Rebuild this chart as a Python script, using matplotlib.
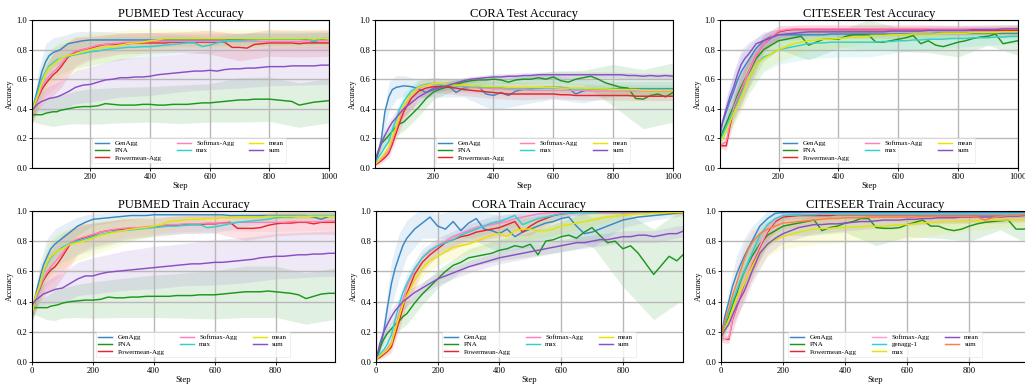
import numpy as np
import matplotlib
matplotlib.use("Agg")
import matplotlib.pyplot as plt

plt.rcParams["font.family"] = ["Liberation Serif", "DejaVu Serif"]

# logged training steps (shared by every curve)
STEPS = [1, 12, 25, 37, 50, 62, 75, 87, 100,
         125, 150, 175, 200, 225, 250, 275, 300, 325, 350, 375, 400,
         425, 450, 475, 500, 525, 550, 575, 600, 625, 650, 675, 700,
         725, 750, 775, 800, 825, 850, 875, 900, 925, 950, 975, 1000]
# steps where the std band is sampled
BAND_STEPS = [1, 25, 50, 75, 100, 150, 200, 300, 400, 500, 600, 700, 800, 900, 1000]

LABELS = ["GenAgg", "PNA", "Powermean-Agg", "Softmax-Agg", "max", "mean", "sum"]
COLORS = ["#3a87c6", "#1e961e", "#e8262b", "#ff7fbf", "#2fd0d0", "#e4e400", "#8a4fc4"]
LABELS_CS_TRAIN = ["GenAgg", "PNA", "Powermean-Agg", "Softmax-Agg", "genagg-1", "max", "mean", "sum"]
COLORS_CS_TRAIN = ["#3a87c6", "#1e961e", "#e8262b", "#ff9fcf", "#2fd0d0", "#e4e400", "#8a4fc4", "#ff7f3f"]

# ---------------- PUBMED test ----------------
PUB_TEST_MEAN = [
    [0.32, 0.45, 0.55, 0.65, 0.72, 0.76, 0.78, 0.79, 0.80,
     0.84, 0.85, 0.86, 0.865, 0.865, 0.865, 0.865, 0.865, 0.865, 0.865, 0.865, 0.865,
     0.865, 0.865, 0.865, 0.865, 0.865, 0.865, 0.865, 0.865, 0.865, 0.865, 0.87, 0.87,
     0.87, 0.87, 0.87, 0.87, 0.87, 0.87, 0.87, 0.87, 0.87, 0.85, 0.87, 0.875],
    [0.36, 0.36, 0.36, 0.36, 0.37, 0.375, 0.38, 0.38, 0.39,
     0.40, 0.41, 0.415, 0.415, 0.42, 0.435, 0.43, 0.425, 0.425, 0.425, 0.43, 0.43,
     0.425, 0.425, 0.43, 0.43, 0.43, 0.435, 0.44, 0.44, 0.445, 0.45, 0.455, 0.46,
     0.46, 0.465, 0.465, 0.465, 0.46, 0.455, 0.45, 0.425, 0.435, 0.445, 0.45, 0.455],
    [0.32, 0.42, 0.48, 0.53, 0.57, 0.60, 0.63, 0.65, 0.68,
     0.75, 0.785, 0.80, 0.81, 0.825, 0.835, 0.835, 0.84, 0.84, 0.845, 0.845, 0.845,
     0.845, 0.845, 0.85, 0.85, 0.85, 0.85, 0.85, 0.85, 0.85, 0.85, 0.815, 0.815,
     0.81, 0.835, 0.84, 0.845, 0.845, 0.845, 0.845, 0.84, 0.845, 0.845, 0.845, 0.845],
    [0.32, 0.42, 0.49, 0.55, 0.59, 0.62, 0.65, 0.67, 0.70,
     0.76, 0.79, 0.80, 0.815, 0.83, 0.835, 0.84, 0.845, 0.85, 0.85, 0.85, 0.855,
     0.855, 0.855, 0.855, 0.855, 0.855, 0.855, 0.855, 0.855, 0.855, 0.855, 0.855, 0.855,
     0.855, 0.855, 0.855, 0.855, 0.855, 0.855, 0.855, 0.855, 0.86, 0.86, 0.86, 0.86],
    [0.32, 0.44, 0.52, 0.60, 0.65, 0.69, 0.71, 0.73, 0.74,
     0.755, 0.765, 0.775, 0.785, 0.79, 0.80, 0.805, 0.81, 0.815, 0.815, 0.82, 0.82,
     0.825, 0.83, 0.835, 0.84, 0.845, 0.845, 0.82, 0.83, 0.845, 0.855, 0.86, 0.86,
     0.865, 0.865, 0.87, 0.87, 0.87, 0.87, 0.87, 0.87, 0.875, 0.86, 0.875, 0.875],
    [0.32, 0.43, 0.50, 0.58, 0.64, 0.68, 0.70, 0.72, 0.74,
     0.76, 0.77, 0.785, 0.80, 0.81, 0.815, 0.82, 0.83, 0.84, 0.845, 0.85, 0.86,
     0.865, 0.875, 0.875, 0.875, 0.875, 0.875, 0.875, 0.875, 0.875, 0.875, 0.875, 0.875,
     0.875, 0.875, 0.875, 0.875, 0.875, 0.875, 0.875, 0.875, 0.875, 0.875, 0.875, 0.875],
    [0.38, 0.41, 0.435, 0.45, 0.46, 0.47, 0.475, 0.48, 0.49,
     0.515, 0.545, 0.56, 0.565, 0.58, 0.595, 0.60, 0.61, 0.61, 0.615, 0.615, 0.62,
     0.63, 0.635, 0.64, 0.645, 0.65, 0.655, 0.655, 0.66, 0.655, 0.665, 0.67, 0.67,
     0.675, 0.675, 0.68, 0.685, 0.685, 0.685, 0.69, 0.69, 0.69, 0.69, 0.695, 0.695],
]
PUB_TEST_SD = [
    [0.04, 0.10, 0.12, 0.10, 0.09, 0.07, 0.06, 0.05, 0.05, 0.04, 0.04, 0.04, 0.04, 0.04, 0.04],
    [0.04, 0.06, 0.08, 0.10, 0.10, 0.11, 0.12, 0.12, 0.12, 0.13, 0.13, 0.15, 0.15, 0.15, 0.15],
    [0.04, 0.08, 0.12, 0.14, 0.14, 0.10, 0.08, 0.07, 0.07, 0.07, 0.08, 0.09, 0.09, 0.09, 0.09],
    [0.04, 0.08, 0.10, 0.12, 0.12, 0.09, 0.07, 0.06, 0.06, 0.06, 0.06, 0.06, 0.06, 0.06, 0.06],
    [0.04, 0.08, 0.10, 0.10, 0.10, 0.09, 0.09, 0.08, 0.07, 0.06, 0.05, 0.05, 0.05, 0.05, 0.05],
    [0.04, 0.10, 0.12, 0.12, 0.12, 0.12, 0.11, 0.10, 0.08, 0.06, 0.06, 0.06, 0.06, 0.06, 0.06],
    [0.04, 0.06, 0.08, 0.09, 0.10, 0.11, 0.12, 0.13, 0.13, 0.13, 0.13, 0.13, 0.13, 0.13, 0.13],
]

# ---------------- CORA test ----------------
CORA_TEST_MEAN = [
    [0.02, 0.08, 0.19, 0.38, 0.48, 0.53, 0.545, 0.55, 0.555,
     0.55, 0.535, 0.51, 0.54, 0.555, 0.555, 0.51, 0.54, 0.545, 0.55, 0.50, 0.49,
     0.51, 0.49, 0.52, 0.53, 0.535, 0.54, 0.545, 0.545, 0.545, 0.54, 0.50, 0.52,
     0.53, 0.535, 0.535, 0.535, 0.535, 0.535, 0.535, 0.535, 0.535, 0.535, 0.535, 0.535],
    [0.02, 0.09, 0.165, 0.19, 0.22, 0.25, 0.28, 0.30, 0.31,
     0.36, 0.41, 0.47, 0.515, 0.535, 0.55, 0.565, 0.58, 0.59, 0.595, 0.595, 0.60,
     0.595, 0.58, 0.595, 0.60, 0.60, 0.61, 0.60, 0.615, 0.59, 0.58, 0.60, 0.61,
     0.62, 0.60, 0.575, 0.56, 0.545, 0.54, 0.47, 0.465, 0.49, 0.50, 0.48, 0.51],
    [0.02, 0.03, 0.05, 0.07, 0.10, 0.16, 0.24, 0.31, 0.38,
     0.47, 0.52, 0.54, 0.55, 0.55, 0.545, 0.54, 0.53, 0.525, 0.52, 0.515, 0.51,
     0.505, 0.50, 0.50, 0.50, 0.50, 0.50, 0.50, 0.50, 0.495, 0.495, 0.49, 0.49,
     0.49, 0.49, 0.49, 0.49, 0.49, 0.49, 0.485, 0.485, 0.485, 0.485, 0.485, 0.485],
    [0.02, 0.04, 0.06, 0.09, 0.12, 0.19, 0.27, 0.34, 0.41,
     0.50, 0.54, 0.56, 0.57, 0.565, 0.56, 0.555, 0.55, 0.545, 0.54, 0.54, 0.535,
     0.535, 0.53, 0.53, 0.53, 0.525, 0.525, 0.525, 0.525, 0.525, 0.525, 0.525, 0.525,
     0.52, 0.52, 0.52, 0.52, 0.52, 0.52, 0.52, 0.52, 0.52, 0.52, 0.52, 0.52],
    [0.02, 0.06, 0.10, 0.14, 0.18, 0.26, 0.33, 0.40, 0.45,
     0.52, 0.55, 0.565, 0.57, 0.565, 0.56, 0.555, 0.555, 0.55, 0.55, 0.545, 0.545,
     0.545, 0.54, 0.54, 0.54, 0.54, 0.54, 0.54, 0.54, 0.54, 0.535, 0.535, 0.535,
     0.535, 0.535, 0.535, 0.535, 0.53, 0.53, 0.53, 0.53, 0.53, 0.53, 0.53, 0.53],
    [0.02, 0.04, 0.07, 0.10, 0.14, 0.21, 0.28, 0.36, 0.42,
     0.50, 0.545, 0.56, 0.57, 0.57, 0.565, 0.56, 0.56, 0.555, 0.555, 0.55, 0.55,
     0.55, 0.545, 0.545, 0.545, 0.545, 0.545, 0.545, 0.545, 0.54, 0.54, 0.54, 0.54,
     0.535, 0.535, 0.535, 0.53, 0.53, 0.53, 0.53, 0.525, 0.525, 0.525, 0.525, 0.525],
    [0.02, 0.10, 0.17, 0.22, 0.27, 0.31, 0.34, 0.37, 0.40,
     0.44, 0.48, 0.51, 0.53, 0.545, 0.56, 0.575, 0.59, 0.60, 0.605, 0.61, 0.615,
     0.615, 0.62, 0.62, 0.625, 0.625, 0.63, 0.63, 0.63, 0.63, 0.63, 0.63, 0.63,
     0.63, 0.63, 0.63, 0.63, 0.63, 0.625, 0.625, 0.62, 0.625, 0.62, 0.625, 0.62],
]
CORA_TEST_SD = [
    [0.01, 0.06, 0.10, 0.08, 0.07, 0.06, 0.06, 0.06, 0.10, 0.10, 0.08, 0.08, 0.05, 0.05, 0.05],
    [0.01, 0.04, 0.05, 0.06, 0.06, 0.06, 0.05, 0.03, 0.03, 0.03, 0.04, 0.05, 0.14, 0.20, 0.20],
    [0.01, 0.02, 0.03, 0.05, 0.06, 0.05, 0.04, 0.04, 0.04, 0.04, 0.03, 0.03, 0.03, 0.03, 0.03],
    [0.01, 0.02, 0.03, 0.05, 0.06, 0.05, 0.04, 0.04, 0.04, 0.04, 0.04, 0.03, 0.03, 0.03, 0.03],
    [0.01, 0.03, 0.04, 0.06, 0.06, 0.05, 0.04, 0.04, 0.04, 0.04, 0.04, 0.03, 0.03, 0.03, 0.03],
    [0.01, 0.02, 0.04, 0.05, 0.06, 0.05, 0.04, 0.04, 0.04, 0.04, 0.04, 0.03, 0.03, 0.03, 0.03],
    [0.01, 0.04, 0.05, 0.05, 0.05, 0.04, 0.03, 0.02, 0.02, 0.02, 0.02, 0.02, 0.02, 0.02, 0.02],
]

# ---------------- CITESEER test ----------------
CS_TEST_MEAN = [
    [0.20, 0.30, 0.38, 0.45, 0.52, 0.59, 0.65, 0.69, 0.73,
     0.81, 0.86, 0.89, 0.90, 0.90, 0.90, 0.90, 0.90, 0.90, 0.90, 0.905, 0.905,
     0.905, 0.905, 0.905, 0.905, 0.905, 0.905, 0.905, 0.905, 0.905, 0.905, 0.905, 0.905,
     0.91, 0.91, 0.91, 0.91, 0.91, 0.91, 0.91, 0.91, 0.91, 0.91, 0.91, 0.91],
    [0.17, 0.24, 0.30, 0.36, 0.42, 0.49, 0.55, 0.60, 0.64,
     0.74, 0.80, 0.83, 0.86, 0.87, 0.88, 0.89, 0.83, 0.85, 0.87, 0.87, 0.87,
     0.89, 0.90, 0.90, 0.90, 0.85, 0.85, 0.86, 0.87, 0.88, 0.895, 0.84, 0.86,
     0.83, 0.82, 0.835, 0.85, 0.86, 0.875, 0.885, 0.89, 0.905, 0.84, 0.85, 0.86],
    [0.15, 0.15, 0.15, 0.28, 0.40, 0.46, 0.52, 0.59, 0.65,
     0.76, 0.84, 0.88, 0.92, 0.93, 0.935, 0.935, 0.935, 0.935, 0.935, 0.935, 0.935,
     0.935, 0.935, 0.935, 0.935, 0.935, 0.935, 0.935, 0.935, 0.935, 0.935, 0.935, 0.935,
     0.93, 0.93, 0.93, 0.93, 0.93, 0.93, 0.93, 0.93, 0.93, 0.93, 0.93, 0.93],
    [0.15, 0.16, 0.18, 0.30, 0.41, 0.47, 0.53, 0.59, 0.65,
     0.76, 0.84, 0.885, 0.925, 0.935, 0.94, 0.94, 0.94, 0.94, 0.94, 0.94, 0.94,
     0.94, 0.94, 0.94, 0.94, 0.94, 0.94, 0.94, 0.94, 0.94, 0.94, 0.94, 0.94,
     0.94, 0.94, 0.94, 0.94, 0.94, 0.94, 0.94, 0.94, 0.94, 0.94, 0.94, 0.94],
    [0.17, 0.22, 0.28, 0.33, 0.38, 0.44, 0.50, 0.55, 0.60,
     0.70, 0.75, 0.77, 0.80, 0.81, 0.82, 0.83, 0.84, 0.845, 0.845, 0.85, 0.85,
     0.85, 0.85, 0.85, 0.85, 0.85, 0.855, 0.855, 0.86, 0.86, 0.865, 0.865, 0.87,
     0.87, 0.87, 0.875, 0.875, 0.875, 0.88, 0.88, 0.88, 0.885, 0.885, 0.89, 0.89],
    [0.17, 0.20, 0.25, 0.31, 0.37, 0.42, 0.48, 0.54, 0.60,
     0.70, 0.74, 0.77, 0.80, 0.82, 0.84, 0.85, 0.86, 0.865, 0.87, 0.87, 0.875,
     0.88, 0.885, 0.885, 0.89, 0.895, 0.895, 0.90, 0.90, 0.90, 0.905, 0.905, 0.905,
     0.905, 0.91, 0.91, 0.91, 0.91, 0.915, 0.915, 0.915, 0.915, 0.92, 0.92, 0.92],
    [0.20, 0.31, 0.40, 0.48, 0.55, 0.63, 0.70, 0.74, 0.77,
     0.84, 0.86, 0.88, 0.90, 0.905, 0.91, 0.915, 0.92, 0.92, 0.92, 0.92, 0.92,
     0.92, 0.92, 0.92, 0.92, 0.92, 0.92, 0.925, 0.925, 0.925, 0.925, 0.925, 0.93,
     0.93, 0.93, 0.93, 0.93, 0.93, 0.935, 0.935, 0.935, 0.935, 0.94, 0.94, 0.94],
]
CS_TEST_SD = [
    [0.03, 0.08, 0.12, 0.12, 0.10, 0.06, 0.04, 0.03, 0.03, 0.03, 0.03, 0.03, 0.03, 0.03, 0.03],
    [0.03, 0.06, 0.08, 0.10, 0.10, 0.08, 0.06, 0.10, 0.06, 0.10, 0.08, 0.08, 0.10, 0.06, 0.10],
    [0.02, 0.03, 0.08, 0.10, 0.10, 0.06, 0.04, 0.03, 0.03, 0.03, 0.03, 0.03, 0.03, 0.03, 0.03],
    [0.02, 0.03, 0.08, 0.10, 0.10, 0.06, 0.04, 0.03, 0.03, 0.03, 0.03, 0.03, 0.03, 0.03, 0.03],
    [0.03, 0.06, 0.08, 0.10, 0.10, 0.10, 0.10, 0.10, 0.10, 0.10, 0.08, 0.07, 0.06, 0.05, 0.05],
    [0.03, 0.06, 0.08, 0.10, 0.10, 0.08, 0.08, 0.07, 0.06, 0.05, 0.05, 0.04, 0.04, 0.04, 0.04],
    [0.03, 0.08, 0.10, 0.10, 0.08, 0.05, 0.04, 0.03, 0.03, 0.03, 0.03, 0.03, 0.03, 0.03, 0.03],
]

# ---------------- PUBMED train ----------------
PUB_TRAIN_MEAN = [
    [0.30, 0.45, 0.55, 0.64, 0.70, 0.75, 0.78, 0.80, 0.82,
     0.86, 0.90, 0.925, 0.945, 0.95, 0.955, 0.96, 0.965, 0.97, 0.97, 0.97, 0.975,
     0.975, 0.975, 0.975, 0.975, 0.975, 0.975, 0.975, 0.975, 0.975, 0.97, 0.97, 0.97,
     0.97, 0.97, 0.97, 0.97, 0.97, 0.97, 0.97, 0.97, 0.96, 0.945, 0.965, 0.97],
    [0.36, 0.36, 0.36, 0.36, 0.36, 0.37, 0.375, 0.38, 0.39,
     0.40, 0.405, 0.41, 0.41, 0.415, 0.43, 0.425, 0.425, 0.43, 0.43, 0.435, 0.435,
     0.435, 0.435, 0.44, 0.44, 0.44, 0.445, 0.445, 0.445, 0.45, 0.455, 0.46, 0.465,
     0.465, 0.465, 0.47, 0.465, 0.46, 0.455, 0.445, 0.42, 0.435, 0.45, 0.455, 0.455],
    [0.32, 0.42, 0.48, 0.54, 0.58, 0.61, 0.63, 0.66, 0.70,
     0.78, 0.81, 0.825, 0.84, 0.86, 0.87, 0.875, 0.88, 0.885, 0.885, 0.89, 0.895,
     0.90, 0.905, 0.905, 0.91, 0.91, 0.91, 0.915, 0.915, 0.92, 0.925, 0.885, 0.885,
     0.885, 0.89, 0.905, 0.915, 0.92, 0.92, 0.925, 0.925, 0.915, 0.925, 0.925, 0.925],
    [0.32, 0.42, 0.49, 0.55, 0.60, 0.63, 0.66, 0.69, 0.72,
     0.79, 0.815, 0.83, 0.845, 0.86, 0.87, 0.88, 0.885, 0.89, 0.89, 0.895, 0.90,
     0.905, 0.91, 0.91, 0.915, 0.915, 0.915, 0.92, 0.92, 0.92, 0.92, 0.925, 0.925,
     0.925, 0.925, 0.925, 0.925, 0.925, 0.93, 0.93, 0.93, 0.93, 0.93, 0.935, 0.935],
    [0.32, 0.43, 0.50, 0.59, 0.65, 0.69, 0.72, 0.74, 0.76,
     0.785, 0.80, 0.815, 0.83, 0.845, 0.855, 0.865, 0.87, 0.875, 0.88, 0.885, 0.89,
     0.895, 0.90, 0.90, 0.905, 0.91, 0.91, 0.89, 0.895, 0.905, 0.915, 0.925, 0.93,
     0.935, 0.94, 0.945, 0.955, 0.96, 0.96, 0.965, 0.965, 0.97, 0.97, 0.97, 0.97],
    [0.32, 0.44, 0.50, 0.60, 0.66, 0.70, 0.72, 0.74, 0.75,
     0.78, 0.79, 0.805, 0.82, 0.84, 0.85, 0.86, 0.87, 0.88, 0.885, 0.89, 0.90,
     0.91, 0.93, 0.935, 0.94, 0.945, 0.945, 0.95, 0.95, 0.955, 0.955, 0.96, 0.96,
     0.96, 0.96, 0.965, 0.965, 0.965, 0.965, 0.965, 0.965, 0.965, 0.965, 0.965, 0.965],
    [0.38, 0.41, 0.43, 0.45, 0.46, 0.47, 0.48, 0.485, 0.49,
     0.52, 0.55, 0.57, 0.57, 0.585, 0.595, 0.60, 0.605, 0.61, 0.615, 0.62, 0.625,
     0.63, 0.635, 0.64, 0.645, 0.65, 0.65, 0.655, 0.66, 0.66, 0.665, 0.67, 0.675,
     0.68, 0.69, 0.695, 0.70, 0.70, 0.705, 0.71, 0.71, 0.715, 0.715, 0.72, 0.72],
]
PUB_TRAIN_SD = [
    [0.04, 0.10, 0.12, 0.10, 0.09, 0.06, 0.04, 0.03, 0.02, 0.02, 0.02, 0.02, 0.02, 0.02, 0.02],
    [0.04, 0.06, 0.08, 0.10, 0.10, 0.11, 0.12, 0.13, 0.14, 0.15, 0.16, 0.17, 0.17, 0.17, 0.17],
    [0.04, 0.08, 0.12, 0.14, 0.14, 0.10, 0.08, 0.07, 0.06, 0.06, 0.06, 0.08, 0.08, 0.08, 0.08],
    [0.04, 0.08, 0.10, 0.12, 0.12, 0.09, 0.07, 0.06, 0.05, 0.05, 0.05, 0.06, 0.06, 0.06, 0.06],
    [0.04, 0.08, 0.10, 0.10, 0.10, 0.09, 0.09, 0.07, 0.06, 0.05, 0.04, 0.03, 0.03, 0.03, 0.03],
    [0.04, 0.10, 0.12, 0.12, 0.12, 0.12, 0.11, 0.09, 0.06, 0.04, 0.03, 0.03, 0.03, 0.03, 0.03],
    [0.04, 0.06, 0.08, 0.09, 0.10, 0.11, 0.12, 0.13, 0.14, 0.14, 0.15, 0.15, 0.15, 0.15, 0.15],
]

# ---------------- CORA train ----------------
CORA_TRAIN_MEAN = [
    [0.02, 0.08, 0.20, 0.36, 0.52, 0.62, 0.70, 0.77, 0.82,
     0.88, 0.92, 0.96, 0.90, 0.88, 0.93, 0.87, 0.92, 0.95, 0.88, 0.87, 0.85,
     0.88, 0.83, 0.86, 0.88, 0.90, 0.92, 0.93, 0.95, 0.96, 0.90, 0.85, 0.86,
     0.88, 0.90, 0.92, 0.94, 0.95, 0.96, 0.965, 0.97, 0.975, 0.98, 0.985, 0.99],
    [0.02, 0.09, 0.15, 0.19, 0.22, 0.25, 0.27, 0.30, 0.32,
     0.39, 0.45, 0.50, 0.55, 0.60, 0.64, 0.66, 0.69, 0.70, 0.71, 0.72, 0.74,
     0.75, 0.77, 0.76, 0.78, 0.71, 0.80, 0.81, 0.83, 0.84, 0.82, 0.86, 0.89,
     0.84, 0.79, 0.80, 0.75, 0.77, 0.72, 0.65, 0.58, 0.64, 0.70, 0.67, 0.72],
    [0.02, 0.03, 0.05, 0.07, 0.10, 0.18, 0.27, 0.36, 0.45,
     0.58, 0.66, 0.71, 0.75, 0.79, 0.81, 0.83, 0.84, 0.86, 0.87, 0.88, 0.89,
     0.91, 0.93, 0.86, 0.90, 0.93, 0.95, 0.97, 0.98, 0.985, 0.99, 0.99, 0.99,
     0.99, 0.99, 0.99, 0.99, 0.99, 0.99, 0.99, 0.99, 0.99, 0.99, 0.99, 0.99],
    [0.02, 0.04, 0.06, 0.09, 0.13, 0.22, 0.32, 0.41, 0.50,
     0.61, 0.69, 0.73, 0.77, 0.80, 0.83, 0.85, 0.87, 0.89, 0.90, 0.91, 0.92,
     0.93, 0.95, 0.96, 0.97, 0.98, 0.985, 0.99, 0.99, 0.995, 0.995, 0.995, 0.995,
     0.995, 0.995, 0.995, 0.995, 0.995, 0.995, 0.995, 0.995, 0.995, 0.995, 0.995, 0.995],
    [0.02, 0.05, 0.08, 0.12, 0.18, 0.28, 0.38, 0.46, 0.52,
     0.62, 0.69, 0.74, 0.77, 0.79, 0.81, 0.84, 0.86, 0.88, 0.90, 0.92, 0.93,
     0.95, 0.97, 0.91, 0.93, 0.95, 0.96, 0.97, 0.98, 0.985, 0.99, 0.99, 0.99,
     0.995, 0.995, 0.995, 0.995, 0.995, 0.995, 0.995, 0.995, 0.995, 0.995, 0.995, 0.995],
    [0.02, 0.04, 0.06, 0.08, 0.12, 0.21, 0.30, 0.38, 0.44,
     0.54, 0.62, 0.67, 0.70, 0.73, 0.76, 0.77, 0.78, 0.80, 0.82, 0.84, 0.85,
     0.83, 0.87, 0.88, 0.88, 0.87, 0.87, 0.88, 0.90, 0.91, 0.92, 0.93, 0.94,
     0.95, 0.96, 0.965, 0.97, 0.975, 0.98, 0.98, 0.985, 0.985, 0.99, 0.99, 0.99],
    [0.02, 0.12, 0.20, 0.25, 0.30, 0.34, 0.37, 0.40, 0.42,
     0.46, 0.49, 0.52, 0.55, 0.57, 0.59, 0.61, 0.63, 0.645, 0.66, 0.675, 0.69,
     0.70, 0.71, 0.72, 0.73, 0.74, 0.75, 0.76, 0.77, 0.78, 0.79, 0.79, 0.80,
     0.81, 0.81, 0.82, 0.83, 0.83, 0.84, 0.84, 0.83, 0.84, 0.85, 0.85, 0.87],
]
CORA_TRAIN_SD = [
    [0.01, 0.08, 0.15, 0.15, 0.12, 0.10, 0.08, 0.10, 0.12, 0.12, 0.10, 0.10, 0.05, 0.03, 0.02],
    [0.01, 0.04, 0.05, 0.06, 0.07, 0.07, 0.06, 0.06, 0.07, 0.08, 0.10, 0.12, 0.25, 0.30, 0.30],
    [0.01, 0.02, 0.04, 0.06, 0.07, 0.06, 0.05, 0.05, 0.06, 0.06, 0.02, 0.01, 0.01, 0.01, 0.01],
    [0.01, 0.02, 0.04, 0.06, 0.07, 0.06, 0.05, 0.05, 0.05, 0.04, 0.02, 0.01, 0.01, 0.01, 0.01],
    [0.01, 0.02, 0.04, 0.06, 0.07, 0.06, 0.05, 0.05, 0.06, 0.05, 0.02, 0.01, 0.01, 0.01, 0.01],
    [0.01, 0.02, 0.04, 0.06, 0.07, 0.06, 0.06, 0.06, 0.07, 0.07, 0.05, 0.04, 0.02, 0.02, 0.01],
    [0.01, 0.04, 0.05, 0.05, 0.05, 0.04, 0.04, 0.04, 0.04, 0.04, 0.04, 0.04, 0.04, 0.04, 0.04],
]

# ---------------- CITESEER train (8 runs) ----------------
CS_TRAIN_MEAN = [
    [0.17, 0.30, 0.40, 0.50, 0.58, 0.64, 0.70, 0.75, 0.80,
     0.90, 0.95, 0.985, 0.99, 0.99, 0.99, 0.99, 0.99, 0.99, 0.99, 0.99, 0.99,
     0.99, 0.99, 0.99, 0.99, 0.99, 0.99, 0.99, 0.99, 0.99, 0.99, 0.99, 0.99,
     0.99, 0.99, 0.99, 0.99, 0.99, 0.99, 0.99, 0.99, 0.99, 0.99, 0.99, 0.99],
    [0.17, 0.23, 0.30, 0.38, 0.45, 0.53, 0.60, 0.65, 0.70,
     0.78, 0.84, 0.87, 0.90, 0.91, 0.92, 0.93, 0.94, 0.87, 0.89, 0.90, 0.92,
     0.93, 0.95, 0.95, 0.89, 0.885, 0.885, 0.89, 0.91, 0.925, 0.94, 0.90, 0.90,
     0.88, 0.87, 0.88, 0.90, 0.915, 0.925, 0.93, 0.935, 0.94, 0.88, 0.88, 0.89],
    [0.15, 0.15, 0.15, 0.28, 0.36, 0.44, 0.52, 0.59, 0.65,
     0.76, 0.86, 0.93, 0.96, 0.965, 0.97, 0.97, 0.97, 0.97, 0.97, 0.975, 0.975,
     0.975, 0.975, 0.975, 0.975, 0.975, 0.975, 0.975, 0.975, 0.975, 0.975, 0.975, 0.975,
     0.975, 0.975, 0.975, 0.975, 0.975, 0.975, 0.975, 0.975, 0.975, 0.975, 0.975, 0.975],
    [0.15, 0.15, 0.16, 0.29, 0.37, 0.45, 0.53, 0.60, 0.66,
     0.77, 0.87, 0.94, 0.97, 0.975, 0.975, 0.98, 0.98, 0.98, 0.98, 0.98, 0.98,
     0.98, 0.98, 0.98, 0.98, 0.98, 0.98, 0.98, 0.98, 0.98, 0.98, 0.98, 0.98,
     0.98, 0.98, 0.98, 0.98, 0.98, 0.98, 0.98, 0.98, 0.98, 0.98, 0.98, 0.98],
    [0.17, 0.25, 0.33, 0.40, 0.47, 0.54, 0.60, 0.66, 0.72,
     0.84, 0.91, 0.95, 0.97, 0.975, 0.975, 0.975, 0.975, 0.98, 0.98, 0.98, 0.98,
     0.98, 0.98, 0.98, 0.98, 0.98, 0.98, 0.98, 0.98, 0.98, 0.98, 0.98, 0.98,
     0.98, 0.98, 0.98, 0.98, 0.98, 0.98, 0.98, 0.98, 0.98, 0.98, 0.98, 0.98],
    [0.17, 0.22, 0.28, 0.35, 0.42, 0.47, 0.52, 0.58, 0.63,
     0.72, 0.78, 0.81, 0.83, 0.845, 0.86, 0.87, 0.88, 0.885, 0.885, 0.89, 0.89,
     0.895, 0.895, 0.90, 0.90, 0.90, 0.905, 0.91, 0.91, 0.915, 0.92, 0.925, 0.925,
     0.93, 0.93, 0.93, 0.93, 0.935, 0.94, 0.94, 0.94, 0.94, 0.94, 0.94, 0.94],
    [0.17, 0.21, 0.25, 0.31, 0.37, 0.42, 0.47, 0.53, 0.60,
     0.72, 0.78, 0.82, 0.85, 0.87, 0.89, 0.90, 0.91, 0.91, 0.915, 0.915, 0.92,
     0.925, 0.93, 0.93, 0.935, 0.94, 0.94, 0.94, 0.945, 0.945, 0.95, 0.95, 0.955,
     0.955, 0.955, 0.96, 0.96, 0.96, 0.96, 0.96, 0.96, 0.965, 0.965, 0.97, 0.97],
    [0.17, 0.27, 0.35, 0.44, 0.52, 0.60, 0.68, 0.74, 0.79,
     0.85, 0.88, 0.90, 0.92, 0.925, 0.93, 0.935, 0.94, 0.945, 0.95, 0.95, 0.955,
     0.955, 0.955, 0.96, 0.96, 0.96, 0.96, 0.96, 0.96, 0.96, 0.965, 0.965, 0.965,
     0.965, 0.965, 0.965, 0.965, 0.96, 0.94, 0.955, 0.965, 0.97, 0.97, 0.975, 0.975],
]
CS_TRAIN_SD = [
    [0.03, 0.08, 0.12, 0.12, 0.10, 0.05, 0.02, 0.01, 0.01, 0.01, 0.01, 0.01, 0.01, 0.01, 0.01],
    [0.03, 0.06, 0.08, 0.10, 0.10, 0.08, 0.06, 0.10, 0.06, 0.12, 0.08, 0.08, 0.10, 0.06, 0.12],
    [0.02, 0.03, 0.08, 0.10, 0.10, 0.06, 0.03, 0.02, 0.02, 0.02, 0.02, 0.02, 0.02, 0.02, 0.02],
    [0.02, 0.03, 0.08, 0.10, 0.10, 0.06, 0.03, 0.02, 0.02, 0.02, 0.02, 0.02, 0.02, 0.02, 0.02],
    [0.03, 0.06, 0.10, 0.10, 0.10, 0.06, 0.03, 0.02, 0.02, 0.02, 0.02, 0.02, 0.02, 0.02, 0.02],
    [0.03, 0.05, 0.07, 0.08, 0.08, 0.08, 0.08, 0.10, 0.10, 0.10, 0.10, 0.08, 0.06, 0.05, 0.05],
    [0.03, 0.05, 0.07, 0.08, 0.08, 0.07, 0.06, 0.06, 0.05, 0.05, 0.04, 0.04, 0.04, 0.04, 0.04],
    [0.03, 0.08, 0.10, 0.10, 0.08, 0.05, 0.04, 0.04, 0.03, 0.03, 0.03, 0.03, 0.03, 0.03, 0.03],
]

W, H = 1025, 385


def box(left, right, top, bottom):
    # pixel box -> figure fraction
    return [left / W, 1 - bottom / H, (right - left) / W, (bottom - top) / H]


def panel(ax, title, means, sds, labels, colors, train):
    steps = np.array(STEPS)
    band_idx = [STEPS.index(s) for s in BAND_STEPS]
    for m, sd, c in zip(means, sds, colors):
        mb = np.array(m)[band_idx]
        sd = np.array(sd)
        ax.fill_between(BAND_STEPS, mb - sd, mb + sd, color=c, alpha=0.13, lw=0)
    for m, lab, c in zip(means, labels, colors):
        ax.plot(steps, m, color=c, lw=1.05, label=lab)
    ax.set_ylim(0, 1)
    if train:
        ax.set_xlim(0, 995)
        ax.set_xticks([0, 200, 400, 600, 800])
    else:
        ax.set_xlim(4, 1000)
        ax.set_xticks([200, 400, 600, 800, 1000])
    yt = np.arange(0, 1.01, 0.2)
    ax.set_yticks(yt)
    ax.set_yticklabels([f"{v:.1f}" for v in yt])
    ax.grid(True, color="#b8b8b8", lw=1.0)
    ax.tick_params(labelsize=6.2, length=2, width=0.6, pad=1.5)
    ax.set_title(title, fontsize=9.0, pad=2)
    ax.set_xlabel("Step", fontsize=6.2, labelpad=0.5)
    ax.set_ylabel("Accuracy", fontsize=5.6, labelpad=2)
    for sp in ax.spines.values():
        sp.set_linewidth(0.8)
    leg = ax.legend(loc="lower center", bbox_to_anchor=(0.53, 0.01), ncol=3, fontsize=5.0,
                    handlelength=2.0, handletextpad=0.8, columnspacing=2.2,
                    labelspacing=0.2, borderpad=0.35, frameon=True, fancybox=False)
    leg.get_frame().set_linewidth(0.4)
    leg.get_frame().set_edgecolor("#dddddd")
    leg.get_frame().set_alpha(0.8)


fig = plt.figure(figsize=(W / 100, H / 100), dpi=100)

ax = fig.add_axes(box(32, 329, 20, 168))
panel(ax, "PUBMED Test Accuracy", PUB_TEST_MEAN, PUB_TEST_SD, LABELS, COLORS, False)
ax = fig.add_axes(box(375, 673, 20, 168))
panel(ax, "CORA Test Accuracy", CORA_TEST_MEAN, CORA_TEST_SD, LABELS, COLORS, False)
ax = fig.add_axes(box(720, 1018, 20, 168))
panel(ax, "CITESEER Test Accuracy", CS_TEST_MEAN, CS_TEST_SD, LABELS, COLORS, False)

ax = fig.add_axes(box(32, 335, 211, 362))
panel(ax, "PUBMED Train Accuracy", PUB_TRAIN_MEAN, PUB_TRAIN_SD, LABELS, COLORS, True)
ax = fig.add_axes(box(376, 683, 211, 362))
panel(ax, "CORA Train Accuracy", CORA_TRAIN_MEAN, CORA_TRAIN_SD, LABELS, COLORS, True)
ax = fig.add_axes(box(721, 1030, 211, 362))
panel(ax, "CITESEER Train Accuracy", CS_TRAIN_MEAN, CS_TRAIN_SD,
      LABELS_CS_TRAIN, COLORS_CS_TRAIN, True)

fig.savefig("out.png", dpi=100)
